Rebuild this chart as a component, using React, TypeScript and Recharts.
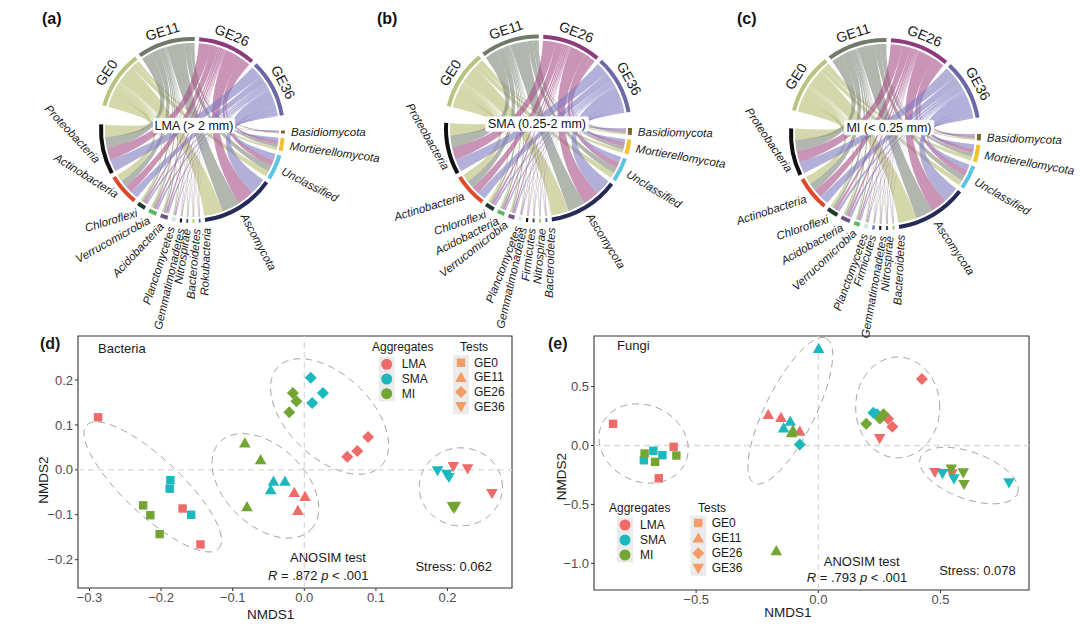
import React from 'react';
import {
  PieChart, Pie, Cell, ScatterChart, Scatter, XAxis, YAxis,
  ReferenceLine, ReferenceArea, Customized
} from 'recharts';

document.body.style.margin = '0';

const FONT = '"Liberation Sans", Arial, Helvetica, sans-serif';

// ---------- chord diagrams (a)-(c) ----------
const tests = ['GE0', 'GE11', 'GE26', 'GE36'];
const testTrack = ['#b7c47f', '#6f7a6a', '#8d3b7c', '#6a68a6'];
const testRibbon = ['#b7bd72', '#7d8779', '#a54d86', '#7e7ac0'];

const C = {
  basid: '#7b682c', mort: '#f2c12e', uncl: '#5ec3e2', asco: '#262a56',
  blue: '#5a5fc4', lgreen: '#9dd25a', dgreen: '#2c5a3c', black: '#151515',
  mint: '#cfe8d8', pgray: '#6e5a80', green: '#5cb961', chloro: '#1e3a2c',
  actino: '#dd4a2b', proteo: '#101010',
};

// taxa listed clockwise, starting after GE36
const lmaTaxa = ['Basidiomycota', 'Mortierellomycota', 'Unclassified', 'Ascomycota', 'Rokubacteria', 'Bacteroidetes', 'Nitrospirae', 'Gemmatimonadetes', 'Planctomycetes', 'Acidobacteria', 'Verrucomicrobia', 'Chloroflexi', 'Actinobacteria', 'Proteobacteria'];
const lmaColors = [C.basid, C.mort, C.uncl, C.asco, C.blue, C.lgreen, C.dgreen, C.black, C.mint, C.pgray, C.green, C.chloro, C.actino, C.proteo];
const lmaGE0 = [1.0, 5.0, 10.5, 34.0, 0.7, 0.8, 0.7, 0.9, 1.4, 3.0, 3.4, 3.5, 13.0, 22.1];
const lmaGE11 = [1.4, 5.8, 11.5, 33.0, 0.8, 0.7, 0.8, 0.9, 1.5, 3.3, 3.7, 3.5, 13.0, 20.1];
const lmaGE26 = [1.5, 6.0, 10.5, 30.5, 0.8, 0.8, 0.7, 0.9, 1.6, 3.2, 3.7, 3.7, 14.0, 22.1];
const lmaGE36 = [1.5, 5.6, 11.5, 30.0, 0.7, 0.7, 0.8, 0.9, 1.5, 3.3, 3.6, 3.7, 14.0, 22.2];

const smaTaxa = ['Basidiomycota', 'Mortierellomycota', 'Unclassified', 'Ascomycota', 'Bacteroidetes', 'Nitrospirae', 'Firmicutes', 'Gemmatimonadetes', 'Planctomycetes', 'Verrucomicrobia', 'Acidobacteria', 'Chloroflexi', 'Actinobacteria', 'Proteobacteria'];
const smaColors = [C.basid, C.mort, C.uncl, C.asco, C.blue, C.lgreen, C.dgreen, C.black, C.mint, C.pgray, C.green, C.chloro, C.actino, C.proteo];
const smaGE0 = [2.6, 6.0, 10.0, 32.0, 0.8, 0.8, 0.8, 0.9, 1.1, 2.5, 2.9, 3.8, 14.0, 21.8];
const smaGE11 = [3.0, 6.5, 10.5, 31.0, 0.8, 0.8, 0.8, 0.9, 1.2, 2.6, 3.0, 3.9, 13.5, 21.5];
const smaGE26 = [3.0, 6.4, 10.3, 29.0, 0.8, 0.8, 0.8, 0.9, 1.2, 2.7, 3.1, 4.0, 14.5, 22.5];
const smaGE36 = [3.0, 6.3, 10.4, 28.8, 0.8, 0.8, 0.8, 0.9, 1.3, 2.6, 3.0, 3.9, 14.8, 22.6];

const miTaxa = ['Basidiomycota', 'Mortierellomycota', 'Unclassified', 'Ascomycota', 'Bacteroidetes', 'Nitrospirae', 'Gemmatimonadetes', 'Firmicutes', 'Planctomycetes', 'Verrucomicrobia', 'Acidobacteria', 'Chloroflexi', 'Actinobacteria', 'Proteobacteria'];
const miColors = [C.basid, C.mort, C.uncl, C.asco, C.lgreen, C.dgreen, C.black, C.blue, C.mint, C.green, C.pgray, C.chloro, C.actino, C.proteo];
const miGE0 = [2.2, 6.8, 9.5, 32.2, 0.7, 0.9, 0.9, 0.9, 1.4, 2.4, 3.7, 4.5, 13.9, 20.0];
const miGE11 = [2.6, 7.3, 10.0, 30.7, 0.8, 0.9, 0.9, 0.9, 1.5, 2.5, 3.9, 4.6, 14.2, 19.2];
const miGE26 = [2.8, 7.4, 10.2, 28.2, 0.8, 0.9, 0.9, 0.9, 1.6, 2.5, 4.0, 4.7, 14.9, 20.2];
const miGE36 = [2.8, 7.3, 10.3, 28.2, 0.7, 0.9, 0.9, 0.9, 1.5, 2.4, 4.0, 4.8, 15.0, 20.3];

const SMALL_GAP = 2.8;

const chordPanels = [
  {
    tag: '(a)', title: 'LMA (> 2 mm)', taxa: lmaTaxa, colors: lmaColors,
    rows: [lmaGE0, lmaGE11, lmaGE26, lmaGE36],
    left: 0, width: 420, cx: 192, cy: 130, r: 93, start: 285.5, gapGE: 9.5, gapTax: 12,
    tilt: [0, 8, 27, 62, -88, -85, -81, -77, -72, -47, -29, -17, 32, 47],
    shift: [0, 0, 0, 0, -3.7, -1.7, 0, -0.6, 0.5, 0, 0, 0, 0, -6],
    boxW: 82, boxDx: 2, boxDy: -4.5, tagX: 42,
  },
  {
    tag: '(b)', title: 'SMA (0.25-2 mm)', taxa: smaTaxa, colors: smaColors,
    rows: [smaGE0, smaGE11, smaGE26, smaGE36],
    left: 360, width: 420, cx: 178, cy: 128.5, r: 94, start: 284, gapGE: 10, gapTax: 10.5,
    tilt: [1, 10, 31, 58, -88, -85, -83, -77, -69, -38, -27, -19, -17, 60],
    shift: [0, 0, 0, 0, -2.3, -0.9, 0.9, 1.7, 0.4, 1.7, 0, 0, 0, -11],
    boxW: 103, boxDx: -1, boxDy: -4.5, tagX: 17,
  },
  {
    tag: '(c)', title: 'MI (< 0.25 mm)', taxa: miTaxa, colors: miColors,
    rows: [miGE0, miGE11, miGE26, miGE36],
    left: 720, width: 360, cx: 165, cy: 134, r: 96, start: 284.5, gapGE: 10, gapTax: 11,
    tilt: [2, 10, 30, 56, -87, -85, -80, -73, -70, -43, -30, -19, -18, 56],
    shift: [0, 0, 0, 0, -3.7, -1.3, -1.6, 0, 0, 0, 0, 0, 0, -10],
    boxW: 90, boxDx: 4, boxDy: -6.5, tagX: 17,
  },
];

const sum = (a: number[]) => a.reduce((s, v) => s + v, 0);

// angle in degrees, clockwise from 12 o'clock
const polar = (cx: number, cy: number, r: number, deg: number) => {
  const a = (deg * Math.PI) / 180;
  return [cx + r * Math.sin(a), cy - r * Math.cos(a)];
};

function layoutChord(p: any) {
  const geTot = p.rows.map(sum);
  const taxTot = p.taxa.map((_: string, j: number) => sum(p.rows.map((r: number[]) => r[j])));
  const gaps = SMALL_GAP * (tests.length - 1 + p.taxa.length - 1) + p.gapGE + p.gapTax;
  const k = (360 - gaps) / (sum(geTot) + sum(taxTot));
  const items: any[] = [];
  let th = p.start;
  const push = (kind: string, idx: number, deg: number, fill: string) => {
    items.push({ kind, idx, start: th, end: th + deg, value: deg, fill });
    th += deg;
  };
  tests.forEach((_, g) => {
    push('ge', g, geTot[g] * k, testTrack[g]);
    push('gap', -1, g < tests.length - 1 ? SMALL_GAP : p.gapGE, 'none');
  });
  p.taxa.forEach((_: string, j: number) => {
    push('tax', j, taxTot[j] * k, p.colors[j]);
    push('gap', -1, j < p.taxa.length - 1 ? SMALL_GAP : p.gapTax, 'none');
  });
  return {
    items, k,
    geStart: items.filter((i) => i.kind === 'ge').map((i) => i.start),
    taxStart: items.filter((i) => i.kind === 'tax').map((i) => i.start),
  };
}

function Ribbons({ p, L }: any) {
  const r = p.r - 6;
  const pt = (d: number) => polar(p.cx, p.cy, r, d);
  const out: any[] = [];
  p.rows.forEach((row: number[], g: number) => {
    row.forEach((v, j) => {
      const a1 = L.geStart[g] + L.k * sum(row.slice(j + 1));
      const a2 = a1 + L.k * v;
      const b1 = L.taxStart[j] + L.k * sum(p.rows.slice(g + 1).map((rw: number[]) => rw[j]));
      const b2 = b1 + L.k * v;
      const [x1, y1] = pt(a1);
      const [x2, y2] = pt(a2);
      const [x3, y3] = pt(b1);
      const [x4, y4] = pt(b2);
      const d = `M${x1},${y1}A${r},${r} 0 0 1 ${x2},${y2}Q${p.cx},${p.cy} ${x3},${y3}` +
        `A${r},${r} 0 0 1 ${x4},${y4}Q${p.cx},${p.cy} ${x1},${y1}Z`;
      out.push(<path key={`${g}-${j}`} d={d} fill={testRibbon[g]} fillOpacity={0.6} />);
    });
  });
  return <g>{out}</g>;
}

function CenterLabel({ p }: any) {
  const x = p.cx + p.boxDx;
  const y = p.cy + p.boxDy;
  return (
    <g>
      <rect x={x - p.boxW / 2} y={y - 7.5} width={p.boxW} height={15} rx={2} fill="#fff" stroke="#e6e6e6" strokeWidth={0.6} />
      <text x={x} y={y} textAnchor="middle" dominantBaseline="central" fontSize={12.5} fill="#111">{p.title}</text>
      <text x={p.tagX} y={18} dominantBaseline="central" fontSize={16} fontWeight="bold" fill="#111">{p.tag}</text>
    </g>
  );
}

function ChordChart({ p }: any) {
  const L = layoutChord(p);
  const pieData = L.items.map((it: any) => ({ name: it.kind, value: it.value, fill: it.fill }));

  const renderLabel = (props: any) => {
    const it = L.items[props.index];
    if (!it || it.kind === 'gap') return null;
    const mid = (it.start + it.end) / 2;
    if (it.kind === 'ge') {
      const [x, y] = polar(p.cx, p.cy, p.r + 10, mid);
      const rot = mid > 180 ? mid - 360 : mid;
      return (
        <text x={x} y={y} textAnchor="middle" dominantBaseline="central" fontSize={14} fill="#1a1a1a"
          transform={`rotate(${rot} ${x} ${y})`}>{tests[it.idx]}</text>
      );
    }
    const j = it.idx;
    const [x, y] = polar(p.cx, p.cy, p.r + 6, mid + p.shift[j]);
    return (
      <text x={x} y={y} textAnchor={j < 4 ? 'start' : 'end'} dominantBaseline="central" fontSize={11.5}
        fontStyle="italic" fill="#1a1a1a" transform={`rotate(${p.tilt[j]} ${x} ${y})`}>{p.taxa[j]}</text>
    );
  };

  const a0 = 90 - p.start;
  return (
    <PieChart width={p.width} height={345} margin={{ top: 0, right: 0, bottom: 0, left: 0 }}>
      <Customized component={<Ribbons p={p} L={L} />} />
      <Pie data={pieData} dataKey="value" cx={p.cx} cy={p.cy} innerRadius={p.r - 4} outerRadius={p.r}
        startAngle={a0} endAngle={a0 - 360} paddingAngle={0} stroke="none"
        isAnimationActive={false} label={renderLabel} labelLine={false}>
        {pieData.map((d: any, i: number) => <Cell key={i} fill={d.fill} />)}
      </Pie>
      <Customized component={<CenterLabel p={p} />} />
    </PieChart>
  );
}

// ---------- NMDS plots (d), (e) ----------
const aggregates = ['LMA', 'SMA', 'MI'];
const aggColors: Record<string, string> = { LMA: '#EF6B6A', SMA: '#1BB8BE', MI: '#72A532' };
const testKeyColor = '#F39C66';

const bacteriaGE0 = [
  { agg: 'LMA', x: -0.288, y: 0.117 }, { agg: 'LMA', x: -0.170, y: -0.086 }, { agg: 'LMA', x: -0.145, y: -0.166 },
  { agg: 'SMA', x: -0.187, y: -0.023 }, { agg: 'SMA', x: -0.188, y: -0.042 }, { agg: 'SMA', x: -0.158, y: -0.100 },
  { agg: 'MI', x: -0.225, y: -0.079 }, { agg: 'MI', x: -0.215, y: -0.101 }, { agg: 'MI', x: -0.202, y: -0.143 },
];
const bacteriaGE11 = [
  { agg: 'MI', x: -0.083, y: 0.060 }, { agg: 'MI', x: -0.061, y: 0.023 }, { agg: 'MI', x: -0.080, y: -0.082 },
  { agg: 'SMA', x: -0.043, y: -0.025 }, { agg: 'SMA', x: -0.027, y: -0.025 }, { agg: 'SMA', x: -0.047, y: -0.044 },
  { agg: 'LMA', x: -0.014, y: -0.050 }, { agg: 'LMA', x: 0.001, y: -0.059 }, { agg: 'LMA', x: -0.009, y: -0.090 },
];
const bacteriaGE26 = [
  { agg: 'SMA', x: 0.009, y: 0.205 }, { agg: 'SMA', x: 0.026, y: 0.171 }, { agg: 'SMA', x: 0.011, y: 0.149 },
  { agg: 'MI', x: -0.016, y: 0.171 }, { agg: 'MI', x: -0.011, y: 0.153 }, { agg: 'MI', x: -0.021, y: 0.128 },
  { agg: 'LMA', x: 0.060, y: 0.029 }, { agg: 'LMA', x: 0.074, y: 0.042 }, { agg: 'LMA', x: 0.089, y: 0.073 },
];
const bacteriaGE36 = [
  { agg: 'SMA', x: 0.186, y: -0.002 }, { agg: 'SMA', x: 0.199, y: -0.010 }, { agg: 'SMA', x: 0.202, y: -0.017 },
  { agg: 'LMA', x: 0.208, y: 0.007 }, { agg: 'LMA', x: 0.228, y: 0.002 }, { agg: 'LMA', x: 0.262, y: -0.053 },
  { agg: 'MI', x: 0.207, y: -0.082 }, { agg: 'MI', x: 0.211, y: -0.081 }, { agg: 'MI', x: 0.209, y: -0.086 },
];
// centre and two conjugate half-axes, in data units
const bacteriaEllipses = [
  { cx: -0.2116, cy: -0.0379, ux: 0.0921, uy: -0.1373, vx: 0.0270, vy: 0.0460 },
  { cx: -0.0544, cy: -0.0356, ux: 0.0637, uy: -0.0973, vx: 0.0386, vy: 0.0638 },
  { cx: 0.0353, cy: 0.1188, ux: 0.0721, uy: -0.1099, vx: 0.0400, vy: 0.0668 },
  { cx: 0.2186, cy: -0.0379, ux: 0.0581, uy: 0, vx: 0, vy: 0.0869 },
];

const fungiGE0 = [
  { agg: 'LMA', x: -0.840, y: 0.184 }, { agg: 'LMA', x: -0.592, y: -0.011 }, { agg: 'LMA', x: -0.653, y: -0.278 },
  { agg: 'SMA', x: -0.714, y: -0.125 }, { agg: 'SMA', x: -0.675, y: -0.045 }, { agg: 'SMA', x: -0.638, y: -0.082 },
  { agg: 'MI', x: -0.711, y: -0.068 }, { agg: 'MI', x: -0.668, y: -0.139 }, { agg: 'MI', x: -0.581, y: -0.085 },
];
const fungiGE11 = [
  { agg: 'SMA', x: 0.001, y: 0.824 }, { agg: 'SMA', x: -0.115, y: 0.207 }, { agg: 'SMA', x: -0.142, y: 0.150 },
  { agg: 'LMA', x: -0.205, y: 0.263 }, { agg: 'LMA', x: -0.153, y: 0.238 }, { agg: 'LMA', x: -0.076, y: 0.122 },
  { agg: 'MI', x: -0.109, y: 0.108 }, { agg: 'MI', x: -0.104, y: 0.130 }, { agg: 'MI', x: -0.172, y: -0.892 },
];
const fungiGE26 = [
  { agg: 'LMA', x: 0.424, y: 0.564 }, { agg: 'LMA', x: 0.285, y: 0.227 }, { agg: 'LMA', x: 0.303, y: 0.159 },
  { agg: 'SMA', x: 0.225, y: 0.278 }, { agg: 'SMA', x: 0.240, y: 0.266 }, { agg: 'SMA', x: -0.076, y: 0.008 },
  { agg: 'MI', x: 0.196, y: 0.184 }, { agg: 'MI', x: 0.252, y: 0.229 }, { agg: 'MI', x: 0.267, y: 0.266 },
];
const fungiGE36 = [
  { agg: 'LMA', x: 0.251, y: 0.059 }, { agg: 'LMA', x: 0.477, y: -0.229 }, { agg: 'LMA', x: 0.547, y: -0.241 },
  { agg: 'SMA', x: 0.508, y: -0.238 }, { agg: 'SMA', x: 0.555, y: -0.283 }, { agg: 'SMA', x: 0.780, y: -0.317 },
  { agg: 'MI', x: 0.544, y: -0.201 }, { agg: 'MI', x: 0.593, y: -0.232 }, { agg: 'MI', x: 0.596, y: -0.331 },
];
const fungiEllipses = [
  { cx: -0.715, cy: 0.017, ux: 0.1814, uy: -0.085, vx: -0.0205, vy: -0.3258 },
  { cx: -0.1146, cy: 0.2946, ux: 0.1473, uy: 0.6147, vx: 0.0914, vy: -0.0935 },
  { cx: 0.3247, cy: 0.3229, ux: 0.1719, uy: 0, vx: 0, vy: 0.4278 },
  { cx: 0.6166, cy: -0.255, ux: 0.1992, uy: -0.1501, vx: 0.0327, vy: 0.187 },
];

const bacteriaPanel = {
  tag: '(d)', title: 'Bacteria', anosim: '.872', stress: 'Stress: 0.062',
  points: { GE0: bacteriaGE0, GE11: bacteriaGE11, GE26: bacteriaGE26, GE36: bacteriaGE36 },
  ellipses: bacteriaEllipses,
  xDomain: [-0.316, 0.29], yDomain: [-0.263, 0.298],
  xTicks: [-0.3, -0.2, -0.1, 0, 0.1, 0.2], yTicks: [-0.2, -0.1, 0, 0.1, 0.2],
  left: 0, margin: { top: 16, right: 28, bottom: 11, left: 38 },
  ov: {
    tag: [40, 23], title: [98, 28],
    aggTitle: [372, 27], aggKeyX: 386.7, aggKeyY: [44.3, 59, 73.7], aggLabelX: 401.7,
    testTitle: [460, 27], testKeyX: 461, testKeyY: [42.7, 57.3, 72, 86.7], testLabelX: 474,
    anosim: [328, 237.7], rline: [318.3, 255], stress: [453.7, 246],
    xTitle: [270.7, 294], yTitle: [43.3, 160],
  },
};

const fungiPanel = {
  tag: '(e)', title: 'Fungi', anosim: '.793', stress: 'Stress: 0.078',
  points: { GE0: fungiGE0, GE11: fungiGE11, GE26: fungiGE26, GE36: fungiGE36 },
  ellipses: fungiEllipses,
  xDomain: [-0.918, 0.862], yDomain: [-1.226, 0.929],
  xTicks: [-0.5, 0, 0.5], yTicks: [-1.0, -0.5, 0, 0.5],
  left: 540, margin: { top: 16, right: 51, bottom: 9, left: 14 },
  ov: {
    tag: [8, 23], title: [77, 25],
    aggTitle: [69, 187.7], aggKeyX: 85, aggKeyY: [205, 220, 235], aggLabelX: 100,
    testTitle: [158, 187.7], testKeyX: 158.3, testKeyY: [203, 218, 233.3, 248.3], testLabelX: 171.7,
    anosim: [321.7, 241.7], rline: [317, 257.3], stress: [437.5, 250.7],
    xTitle: [248, 292], yTitle: [22, 156.7],
  },
};

const outline = (e: any) =>
  Array.from({ length: 97 }, (_, i) => {
    const t = (i / 96) * 2 * Math.PI;
    return {
      x: e.cx + e.ux * Math.cos(t) + e.vx * Math.sin(t),
      y: e.cy + e.uy * Math.cos(t) + e.vy * Math.sin(t),
    };
  });

const fmt = (v: number) => (Math.abs(v) < 1e-9 ? '0.0' : v.toFixed(1)).replace('-', '\u2212');

function Marker({ test, cx, cy, fill }: any) {
  if (test === 'GE0') return <rect x={cx - 4.2} y={cy - 4.2} width={8.4} height={8.4} fill={fill} />;
  if (test === 'GE11') return <polygon points={`${cx},${cy - 5.6} ${cx + 5.8},${cy + 4.6} ${cx - 5.8},${cy + 4.6}`} fill={fill} />;
  if (test === 'GE26') return <polygon points={`${cx},${cy - 6} ${cx + 6},${cy} ${cx},${cy + 6} ${cx - 6},${cy}`} fill={fill} />;
  return <polygon points={`${cx - 5.8},${cy - 4.6} ${cx + 5.8},${cy - 4.6} ${cx},${cy + 5.6}`} fill={fill} />;
}

function NmdsOverlay({ p }: any) {
  const o = p.ov;
  const txt = { fill: '#1a1a1a', dominantBaseline: 'central' as const };
  return (
    <g>
      <text x={o.tag[0]} y={o.tag[1]} {...txt} fontSize={16} fontWeight="bold">{p.tag}</text>
      <text x={o.title[0]} y={o.title[1]} {...txt} fontSize={13}>{p.title}</text>

      <text x={o.aggTitle[0]} y={o.aggTitle[1]} {...txt} fontSize={12}>Aggregates</text>
      <rect x={o.aggKeyX - 8} y={o.aggKeyY[0] - 7.5} width={16} height={o.aggKeyY[2] - o.aggKeyY[0] + 15} fill="#ebebeb" />
      {aggregates.map((a, i) => (
        <g key={a}>
          <circle cx={o.aggKeyX} cy={o.aggKeyY[i]} r={5.5} fill={aggColors[a]} />
          <text x={o.aggLabelX} y={o.aggKeyY[i]} {...txt} fontSize={12}>{a}</text>
        </g>
      ))}

      <text x={o.testTitle[0]} y={o.testTitle[1]} {...txt} fontSize={12}>Tests</text>
      <rect x={o.testKeyX - 8} y={o.testKeyY[0] - 7.5} width={16} height={o.testKeyY[3] - o.testKeyY[0] + 15} fill="#ebebeb" />
      {tests.map((t, i) => (
        <g key={t}>
          <Marker test={t} cx={o.testKeyX} cy={o.testKeyY[i]} fill={testKeyColor} />
          <text x={o.testLabelX} y={o.testKeyY[i]} {...txt} fontSize={12}>{t}</text>
        </g>
      ))}

      <text x={o.anosim[0]} y={o.anosim[1]} {...txt} textAnchor="middle" fontSize={13}>ANOSIM test</text>
      <text x={o.rline[0]} y={o.rline[1]} {...txt} textAnchor="middle" fontSize={13}>
        <tspan fontStyle="italic">R</tspan> = {p.anosim} <tspan fontStyle="italic">p</tspan> {'< .001'}
      </text>
      <text x={o.stress[0]} y={o.stress[1]} {...txt} textAnchor="middle" fontSize={13}>{p.stress}</text>

      <text x={o.xTitle[0]} y={o.xTitle[1]} {...txt} textAnchor="middle" fontSize={13.5}>NMDS1</text>
      <text x={o.yTitle[0]} y={o.yTitle[1]} {...txt} textAnchor="middle" fontSize={13.5}
        transform={`rotate(-90 ${o.yTitle[0]} ${o.yTitle[1]})`}>NMDS2</text>
    </g>
  );
}

function NmdsPanel({ p }: any) {
  const axisTick = { fill: '#4d4d4d', fontSize: 13 };
  return (
    <ScatterChart width={540} height={309} margin={p.margin}>
      <XAxis type="number" dataKey="x" domain={p.xDomain} ticks={p.xTicks} allowDataOverflow
        tickFormatter={fmt} tickSize={3} tickMargin={2} tickLine={{ stroke: '#333' }} axisLine={false}
        tick={axisTick} height={30} />
      <YAxis type="number" dataKey="y" domain={p.yDomain} ticks={p.yTicks} allowDataOverflow
        tickFormatter={fmt} tickSize={3} tickMargin={2} tickLine={{ stroke: '#333' }} axisLine={false}
        tick={axisTick} width={40} />
      <ReferenceLine x={0} stroke="#d9d9d9" strokeWidth={1.3} strokeDasharray="6 4" />
      <ReferenceLine y={0} stroke="#d9d9d9" strokeWidth={1.3} strokeDasharray="6 4" />
      {p.ellipses.map((e: any, i: number) => (
        <Scatter key={`ell${i}`} data={outline(e)} fill="none" isAnimationActive={false}
          line={{ stroke: '#a3a3a3', strokeWidth: 1, strokeDasharray: '7 5' }}
          shape={() => <g />} />
      ))}
      {tests.map((t) => (
        <Scatter key={t} data={p.points[t]} isAnimationActive={false}
          shape={(s: any) => <Marker test={t} cx={s.cx} cy={s.cy} fill={aggColors[s.payload.agg]} />} />
      ))}
      <ReferenceArea x1={p.xDomain[0]} x2={p.xDomain[1]} y1={p.yDomain[0]} y2={p.yDomain[1]}
        fill="none" stroke="#333" strokeWidth={1.1} ifOverflow="visible" />
      <Customized component={<NmdsOverlay p={p} />} />
    </ScatterChart>
  );
}

export default function App() {
  return (
    <div style={{ position: 'relative', width: 1080, height: 629, background: '#fff', fontFamily: FONT, overflow: 'hidden' }}>
      {chordPanels.map((p) => (
        <div key={p.tag} style={{ position: 'absolute', left: p.left, top: 0 }}>
          <ChordChart p={p} />
        </div>
      ))}
      {[bacteriaPanel, fungiPanel].map((p) => (
        <div key={p.tag} style={{ position: 'absolute', left: p.left, top: 320 }}>
          <NmdsPanel p={p} />
        </div>
      ))}
    </div>
  );
}
